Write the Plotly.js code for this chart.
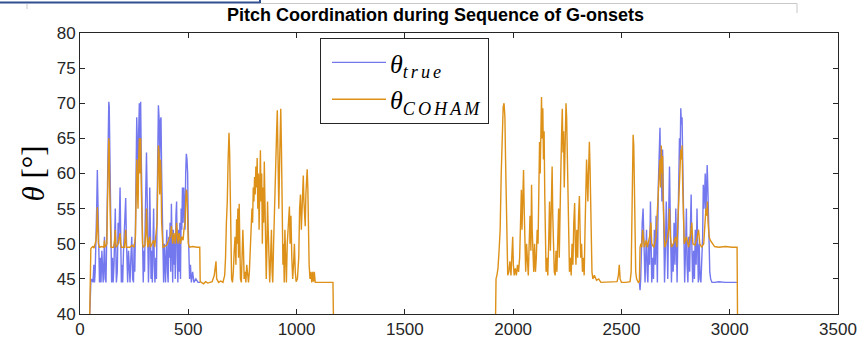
<!DOCTYPE html>
<html>
<head>
<meta charset="utf-8">
<script src="https://cdn.plot.ly/plotly-3.0.1.min.js"></script>
<style>
  html, body { margin: 0; padding: 0; background: #ffffff; }
  #chart { width: 866px; height: 339px; }
</style>
</head>
<body>
<div id="chart"></div>
<script>
// ---- Data ----
const xTicks = [0, 500, 1000, 1500, 2000, 2500, 3000, 3500];
const yTicks = [40, 45, 50, 55, 60, 65, 70, 75, 80];

// theta_true, first block of G-onsets  [sample, degrees]
const trueSeg1 = [[45,40],[50,44.5],[55,45],[60,44.5],[64,47],[67,44.5],[70,46],[74,50],[77,55],[80,60.5],[82,57],[84,50],[87,45],[90,44.5],[94,48],[97,44.5],[101,49],[104,45],[107,44.5],[110,47],[113,51],[116,45],[120,44.5],[124,52],[127,60],[130,66],[133,70.2],[135,69.5],[137,66],[139,62],[141,58],[143,50],[146,44.5],[150,48],[153,44.5],[157,47],[160,52],[163,55],[165,50],[168,44.5],[172,46],[176,53],[179,50],[182,54],[185,58],[188,51],[191,44.5],[194,47],[197,44.5],[201,49],[205,52],[208,54],[211,56.5],[214,51],[217,46],[220,44.5],[224,49],[228,47],[231,44.5],[235,48],[239,51],[243,45],[247,44.5],[250,50],[253,46],[256,52],[259,60],[262,68],[265,64],[268,57],[271,66],[274,70],[277,64],[280,70.2],[283,62],[286,55],[289,50],[292,44.5],[295,49],[298,46],[301,53],[304,58],[307,63],[310,57],[313,50],[316,44.5],[319,48],[322,58],[325,52],[328,45],[331,49],[334,44.5],[337,50],[340,55],[343,47],[346,44.5],[350,48],[353,45],[356,55],[359,63],[362,69.7],[365,68],[368,62],[371,67.5],[374,68],[377,60],[380,55],[383,48],[386,44.5],[389,50],[392,47],[395,44.5],[398,49],[401,52],[404,46],[407,44.5],[410,51],[413,48],[416,53],[419,46],[422,55.7],[425,50],[428,44.5],[431,52],[434,47],[437,51],[440,45],[443,54],[446,56],[449,48],[452,44.5],[455,52],[458,46],[461,53],[464,45],[467,55],[470,52],[473,58],[476,53],[479,58],[482,55],[485,52],[488,60],[491,62.8],[494,62],[497,60],[500,52],[503,48],[506,45],[510,47],[514,44.5],[520,46],[526,44.5],[535,45],[545,44.5],[555,44.5]];

// theta_true, second block of G-onsets
const trueSeg2 = [[2583,44.5],[2586,43.4],[2589,45],[2592,50],[2596,53],[2600,55],[2603,50],[2606,45],[2609,44.5],[2612,48],[2616,52],[2619,46],[2622,44.5],[2626,50],[2630,47],[2634,56],[2637,51],[2640,44.5],[2644,48],[2648,45],[2652,52],[2656,47],[2660,54],[2663,49],[2666,44.5],[2670,58],[2674,62],[2678,66.5],[2681,60],[2684,63],[2687,56],[2690,63.4],[2693,58],[2696,50],[2699,44.5],[2703,49],[2707,56],[2710,52],[2714,45],[2718,54],[2722,61],[2725,55],[2728,48],[2731,44.5],[2735,50],[2739,46],[2743,53],[2747,47],[2751,55],[2754,48],[2757,44.5],[2761,52],[2765,60],[2768,65],[2771,62],[2774,69.3],[2777,67],[2780,68],[2783,62],[2786,56],[2789,50],[2792,44.5],[2796,49],[2800,55],[2803,47],[2807,44.5],[2811,51],[2815,46],[2819,53],[2822,57],[2825,50],[2829,44.5],[2833,49],[2837,45],[2841,52],[2845,47],[2849,55],[2852,49],[2855,44.5],[2859,50],[2863,45],[2867,44.5],[2871,48],[2875,51],[2878,58.4],[2881,55],[2884,57],[2887,60],[2890,54],[2893,58],[2896,61.2],[2899,58],[2902,52],[2905,47],[2908,46],[2912,45],[2918,44.5],[2930,44.5],[2950,44.6],[2980,44.5],[3010,44.5],[3033,44.5]];

// theta_COHAM, first block (incl. the part after theta_true ends)
const cohamSeg1 = [[45,40],[47,45],[50,49.3],[55,49.5],[60,49.6],[65,49.4],[70,50],[74,50.5],[77,52],[80,55.2],[82,53],[85,50],[90,49.5],[100,49.6],[110,49.5],[113,50.5],[116,49.5],[124,50],[127,56],[130,61],[133,65],[135,64],[137,58],[139,56],[141,52],[143,49.5],[155,49.5],[160,50.5],[163,52],[166,49.5],[176,50],[182,51],[185,51.5],[188,50],[191,49.5],[205,49.5],[208,50.5],[211,52],[214,49.5],[230,49.5],[240,49.8],[250,49.5],[256,51],[259,56],[262,62],[265,58],[268,55],[271,62],[274,65],[277,60],[280,65],[283,58],[286,52],[289,50],[292,49.5],[300,49.8],[304,52],[307,55],[310,51],[313,49.5],[322,51],[325,49.5],[340,50.5],[345,49.5],[356,53],[359,58],[362,64],[365,63],[368,57],[371,62],[374,60],[377,53],[380,51],[383,49.5],[400,49.8],[410,50.5],[416,51],[422,52.5],[428,50],[434,51.5],[440,50],[446,53],[452,50],[458,51.5],[464,50],[470,51],[476,50.5],[480,52],[485,53],[488,56],[491,57.7],[494,57],[497,54],[500,50],[505,49.5],[520,49.6],[540,49.5],[553,49.5],[555,44.6],[560,44.5],[570,44.3],[580,44.6],[590,44.4],[600,44.5],[610,44.6],[620,45.5],[625,46.5],[628,47.5],[631,45],[640,44.5],[650,44.7],[660,44.5],[668,45.5],[672,48],[676,53],[680,56],[684,62],[688,65.8],[691,63],[694,55],[697,48],[700,45],[704,44.5],[708,46],[712,49],[716,51],[720,47],[723,53.5],[726,50],[729,55],[732,48],[735,55.7],[738,50],[741,45],[745,44.5],[749,48],[752,52],[755,49],[758,45],[762,46],[766,44.5],[770,47],[774,45],[778,44.5],[782,46],[786,50],[790,52],[794,55],[797,53],[800,58],[803,56],[806,59.5],[809,57],[812,61],[815,58],[818,62.2],[821,55],[824,60],[827,52],[830,62],[833,63.3],[836,56],[839,60],[842,50],[845,58],[848,53],[851,61.7],[854,56],[857,47],[860,45],[863,49],[866,56],[869,52],[872,46],[876,44.5],[880,48],[884,52],[887,46],[890,44.5],[894,50],[898,56],[901,60],[904,62],[908,66],[911,69],[914,62],[918,55],[922,62],[925,66],[927,69.2],[930,64],[933,52],[937,47],[940,50],[943,44.5],[946,52],[950,48],[953,44.5],[957,50],[962,53],[967,55.3],[970,50],[974,54],[978,48],[982,45],[986,47],[990,50],[994,46],[998,44.6],[1004,45],[1010,48],[1014,55],[1018,57],[1022,52],[1026,56],[1031,59.7],[1034,56],[1037,53],[1040,52.5],[1043,57],[1046,59],[1049,60.6],[1052,58],[1055,52],[1058,47],[1062,45],[1066,46],[1070,44.5],[1074,46],[1078,44.6],[1082,46],[1086,44.5],[1100,44.5],[1140,44.5],[1168,44.5],[1170,40]];

// theta_COHAM, second block
const cohamSeg2 = [[1919,40],[1921,45],[1925,45.5],[1930,46.5],[1935,49],[1940,52],[1945,60],[1950,66],[1954,69.5],[1958,70],[1962,68],[1965,62],[1968,55],[1971,48],[1975,45.5],[1980,46],[1985,47.5],[1990,45.5],[1994,48],[1998,51],[2001,47],[2005,45.5],[2010,46.5],[2015,45.5],[2020,47],[2025,46],[2030,48],[2034,52],[2038,57.7],[2041,52],[2044,55],[2048,60.5],[2051,55],[2054,48],[2058,46],[2062,50],[2066,47],[2070,45.5],[2074,50],[2078,54],[2082,49],[2085,58.4],[2088,52],[2091,47],[2095,46],[2099,50],[2103,46],[2107,48],[2111,52],[2115,50],[2119,58],[2122,64.5],[2125,60],[2128,66],[2131,70.9],[2134,65],[2137,69.3],[2140,62],[2143,66],[2146,57],[2149,50],[2152,46],[2156,48],[2160,45.5],[2164,50],[2168,56],[2172,49],[2176,54],[2180,61],[2183,54],[2186,48],[2190,46],[2194,45.5],[2198,49],[2202,46],[2206,51],[2210,55],[2213,48],[2217,53],[2220,60],[2224,66],[2227,69.2],[2230,63],[2233,66],[2236,58],[2240,67],[2244,70],[2247,68],[2250,62],[2253,55],[2256,49],[2260,46],[2264,48],[2268,45.5],[2272,50],[2276,47],[2280,53],[2284,55.8],[2287,50],[2290,47],[2294,52],[2298,48],[2302,54],[2306,56.8],[2309,52],[2312,48],[2316,50],[2320,46],[2324,48],[2328,45.5],[2332,52],[2336,58],[2339,62],[2342,59],[2345,56],[2348,60],[2352,64.5],[2355,61],[2358,55],[2361,48],[2364,46],[2368,45],[2375,45.5],[2385,44.8],[2395,45],[2405,44.5],[2430,44.5],[2460,44.5],[2480,44.6],[2486,45.5],[2490,47],[2494,45],[2500,44.5],[2520,44.5],[2540,44.6],[2545,46],[2548,52],[2551,60],[2554,65.5],[2557,64],[2560,58],[2563,50],[2566,46],[2570,45],[2578,44.5],[2583,44.6],[2586,49.5],[2590,50],[2594,49.5],[2598,52],[2602,50],[2606,49.5],[2615,50.5],[2620,49.5],[2630,51],[2636,53],[2640,50],[2650,49.5],[2660,51],[2666,55],[2670,58.6],[2674,61],[2678,62],[2681,58],[2684,64],[2687,60],[2690,62.5],[2693,56],[2696,52],[2700,49.5],[2710,50.5],[2718,52],[2722,55],[2726,51],[2731,49.5],[2740,50],[2750,51],[2756,49.5],[2762,54],[2766,58],[2770,60],[2774,63.4],[2777,62],[2780,64],[2783,58],[2786,53],[2790,50],[2800,51],[2810,49.5],[2820,51.5],[2825,53],[2830,50],[2840,49.8],[2850,51],[2856,52],[2862,50],[2870,49.5],[2880,50],[2887,53],[2890,55],[2894,54],[2897,56],[2900,53],[2905,51],[2910,50.5],[2920,50],[2930,49.6],[2950,49.5],[2980,49.6],[3010,49.5],[3034,49.5],[3036,40]];

const seriesNames = [
  '<i>θ</i><sub><i><span style="letter-spacing:3px">true</span></i></sub>',
  '<i>θ</i><sub><i><span style="letter-spacing:3px">COHAM</span></i></sub>'
];
const seriesColors = ['#7478ee', '#dd9119'];

// ---- Build traces ----
function join(segs) {
  const x = [], y = [];
  segs.forEach((s, i) => {
    if (i > 0) { x.push(null); y.push(null); }
    s.forEach(p => { x.push(p[0]); y.push(p[1]); });
  });
  return {x, y};
}
const t = join([trueSeg1, trueSeg2]);
const c = join([cohamSeg1, cohamSeg2]);

const traces = [
  {x: t.x, y: t.y, type: 'scatter', mode: 'lines', name: seriesNames[0], legendgroup: 'a',
   line: {color: seriesColors[0], width: 1.4}, connectgaps: false},
  {x: c.x, y: c.y, type: 'scatter', mode: 'lines', name: seriesNames[1], legendgroup: 'b',
   line: {color: seriesColors[1], width: 1.4}, connectgaps: false}
];

// plot area in px: left 80, right 838, top 33, bottom 314
const L = 80, R = 838, T = 33, B = 314;
const px = v => (v - L) / (R - L);
const py = v => (B - v) / (B - T);

const tickFont = {family: 'Liberation Sans Narrow, Arial Narrow, Liberation Sans, Arial, sans-serif', size: 17, color: '#262626'};
const axisCommon = {
  showgrid: false, zeroline: false, showline: true, linecolor: '#262626', linewidth: 1,
  mirror: 'ticks', ticks: 'inside', ticklen: 5, tickcolor: '#262626', tickwidth: 1,
  tickfont: tickFont, fixedrange: true
};

const layout = {
  width: 866, height: 339,
  margin: {l: L, r: 866 - R, t: T, b: 339 - B},
  paper_bgcolor: '#ffffff', plot_bgcolor: '#ffffff',
  showlegend: true,
  title: {
    text: '<b>Pitch Coordination during Sequence of G-onsets</b>',
    font: {family: 'Liberation Sans Narrow, Arial Narrow, Liberation Sans, Arial, sans-serif', size: 18, color: '#000000'},
    xref: 'paper', x: px(435.5), xanchor: 'center',
    yref: 'container', y: 1 - 15 / 339, yanchor: 'middle'
  },
  xaxis: Object.assign({}, axisCommon, {
    range: [0, 3500], tickvals: xTicks, ticktext: xTicks.map(String)
  }),
  yaxis: Object.assign({}, axisCommon, {
    range: [40, 80], tickvals: yTicks, ticktext: yTicks.map(String),
    title: {text: '<i>θ</i> [°]', font: {family: 'Liberation Serif, DejaVu Serif, serif', size: 31, color: '#000000'}, standoff: 2}
  }),
  legend: {
    x: px(320), y: py(38), xanchor: 'left', yanchor: 'top',
    bgcolor: '#ffffff', bordercolor: '#262626', borderwidth: 1,
    font: {family: 'Liberation Serif, DejaVu Serif, serif', size: 26, color: '#000000'},
    traceorder: 'grouped', tracegroupgap: 0, itemwidth: 59
  },
  shapes: [
    {type: 'line', xref: 'paper', yref: 'paper', x0: px(0), x1: px(260), y0: py(2.5), y1: py(2.5), line: {color: '#2f4f8f', width: 2}},
    {type: 'line', xref: 'paper', yref: 'paper', x0: px(260), x1: px(260), y0: py(0), y1: py(3), line: {color: '#2f4f8f', width: 2}},
    {type: 'line', xref: 'paper', yref: 'paper', x0: px(260), x1: px(797), y0: py(3.5), y1: py(3.5), line: {color: '#c8c8c8', width: 1}},
    {type: 'line', xref: 'paper', yref: 'paper', x0: px(797), x1: px(797), y0: py(3.5), y1: py(13), line: {color: '#c8c8c8', width: 1}},
    {type: 'line', xref: 'paper', yref: 'paper', x0: px(27), x1: px(27), y0: py(4), y1: py(9), line: {color: '#c8c8c8', width: 1}}
  ]
};

Plotly.newPlot('chart', traces, layout, {displayModeBar: false, staticPlot: true}).then(gd => {
  // lengthen the legend line samples to match the reference (MATLAB-style long samples)
  gd.querySelectorAll('.legend .legendlines path').forEach(p => p.setAttribute('d', 'M11,0h54'));
});
</script>
</body>
</html>
